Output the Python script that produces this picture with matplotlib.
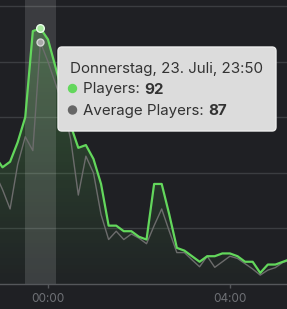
"""
Players vs. average players around the Thursday-night peak (dark theme).
"""

import matplotlib
matplotlib.use("Agg")
import matplotlib.pyplot as plt
import numpy as np
from matplotlib.colors import LinearSegmentedColormap
from matplotlib.patches import FancyBboxPatch, Circle
from matplotlib.transforms import IdentityTransform

# ── Data ─────────────────────────────────────────────────────────────────────

times = ["22:50", "23:00", "23:10", "23:20", "23:30", "23:40", "23:50",
         "00:00", "00:10", "00:20", "00:30", "00:40", "00:50", "01:00",
         "01:10", "01:20", "01:30", "01:40", "01:50", "02:00", "02:10",
         "02:20", "02:30", "02:40", "02:50", "03:00", "03:10", "03:20",
         "03:30", "03:40", "03:50", "04:00", "04:10", "04:20", "04:30",
         "04:40", "04:50", "05:00", "05:10", "05:20"]

players = [46, 42, 44, 51, 60, 91, 92, 88, 78, 68, 57, 49, 50, 45, 36, 21,
           21, 19, 19, 17, 16, 36, 36, 25, 13, 12, 10, 8, 10, 10, 11, 11,
           10, 8, 8, 4, 7, 7, 8, 9]

average = [40, 34, 27, 43, 53, 48, 87, 80, 72, 64, 52, 32, 46, 40, 25, 16,
           19, 16, 18, 16.5, 14.5, 21, 27, 19, 11.3, 11.3, 8.7, 6.2, 10, 6,
           8, 10, 9.2, 7.3, 5.4, 3.2, 5, 5.9, 7.8, 8.6]

tick_labels = ["00:00", "04:00"]
hover_time = "23:50"
hover_title = "Donnerstag, 23. Juli, 23:50"


def to_minutes(hhmm):
    h, m = map(int, hhmm.split(":"))
    mins = h * 60 + m
    return mins - 1440 if h >= 12 else mins


# ── Style ────────────────────────────────────────────────────────────────────

BG = "#1f2024"
GRID = "#3b3d41"
GREEN = "#63d75c"
GRAY = "#6c6c6c"
FONT = ["Inter", "DejaVu Sans"]

W, H, DPI = 287, 309, 100
fig = plt.figure(figsize=(W / DPI, H / DPI), dpi=DPI, facecolor=BG)
ax = fig.add_axes([0, 25 / H, 1, 284 / H])
ax.set_facecolor(BG)

x = np.array([to_minutes(t) for t in times])
hx = to_minutes(hover_time)
hi = times.index(hover_time)

top = 102.2
ax.set_xlim(-63.3, 315.3)
ax.set_ylim(0, top)

# grid
for yv in [20, 40, 60, 80, 100]:
    ax.axhline(yv, color=GRID, lw=1, zorder=0)

# gradient fill under players
grad = np.linspace(0.0, 1.0, 256).reshape(-1, 1)
cmap = LinearSegmentedColormap.from_list(
    "g", [(0.39, 0.84, 0.36, 0.02), (0.39, 0.84, 0.36, 0.32)])
img = ax.imshow(grad, cmap=cmap, aspect="auto", origin="lower",
                extent=[x[0], x[-1], 0, top], zorder=1)
poly = ax.fill_between(x, players, 0, color="none", lw=0)
img.set_clip_path(poly.get_paths()[0], ax.transData)

# hover band
ax.axvspan(hx - 20, hx + 20, color="white", alpha=0.13, lw=0, zorder=2)

# lines
ax.plot(x, average, color=GRAY, lw=1, zorder=3)
ax.plot(x, players, color=GREEN, lw=1.6, zorder=4)
ax.plot([hx], [average[hi]], "o", ms=5, mfc="#a9a9a9", mec="#d6d6d6",
        mew=1, zorder=5)
ax.plot([hx], [players[hi]], "o", ms=5.5, mfc="#a8eaa0", mec="#eaffea",
        mew=1, zorder=6)

# axes
for s in ["top", "right", "left"]:
    ax.spines[s].set_visible(False)
ax.spines["bottom"].set_color("#55575b")
ax.spines["bottom"].set_linewidth(1)
ax.set_yticks([])
ax.set_xticks([to_minutes(t) for t in tick_labels])
ax.set_xticklabels(tick_labels, family=FONT, fontsize=8.5, color="#6f7176")
ax.tick_params(axis="x", length=3, width=1, color="#55575b", pad=3.5)

# ── Tooltip ──────────────────────────────────────────────────────────────────

def px(xp, yp):
    return xp, H - yp

bx0, by0, bx1, by1 = 58, 47, 276, 131
box = FancyBboxPatch(px(bx0, by1), bx1 - bx0, by1 - by0,
                     boxstyle="round,pad=0,rounding_size=4",
                     transform=IdentityTransform(), facecolor="#dcdcdc",
                     edgecolor="#ececec", lw=1, zorder=10)
fig.add_artist(box)

TXT = "#333333"
FS = 10.9
fig.text(*px(69.5, 72.5), hover_title, transform=IdentityTransform(),
         family=FONT, fontsize=FS, color=TXT, va="baseline", zorder=11)

rows = [("Players: ", players[hi], GREEN, 93.5),
        ("Average Players: ", average[hi], "#666666", 115)]
renderer = fig.canvas.get_renderer()
for label, val, col, yb in rows:
    fig.add_artist(Circle(px(72.5, yb - 5), 4, color=col,
                          transform=IdentityTransform(), zorder=11))
    t = fig.text(*px(83, yb), label, transform=IdentityTransform(),
                 family=FONT, fontsize=FS, color=TXT, va="baseline",
                 zorder=11)
    bb = t.get_window_extent(renderer)
    fig.text(bb.x1, H - yb, f"{val:g}", transform=IdentityTransform(),
             family=FONT, fontsize=FS, fontweight="bold", color=TXT,
             va="baseline", zorder=11)

fig.savefig("out.png", dpi=DPI, facecolor=BG)
